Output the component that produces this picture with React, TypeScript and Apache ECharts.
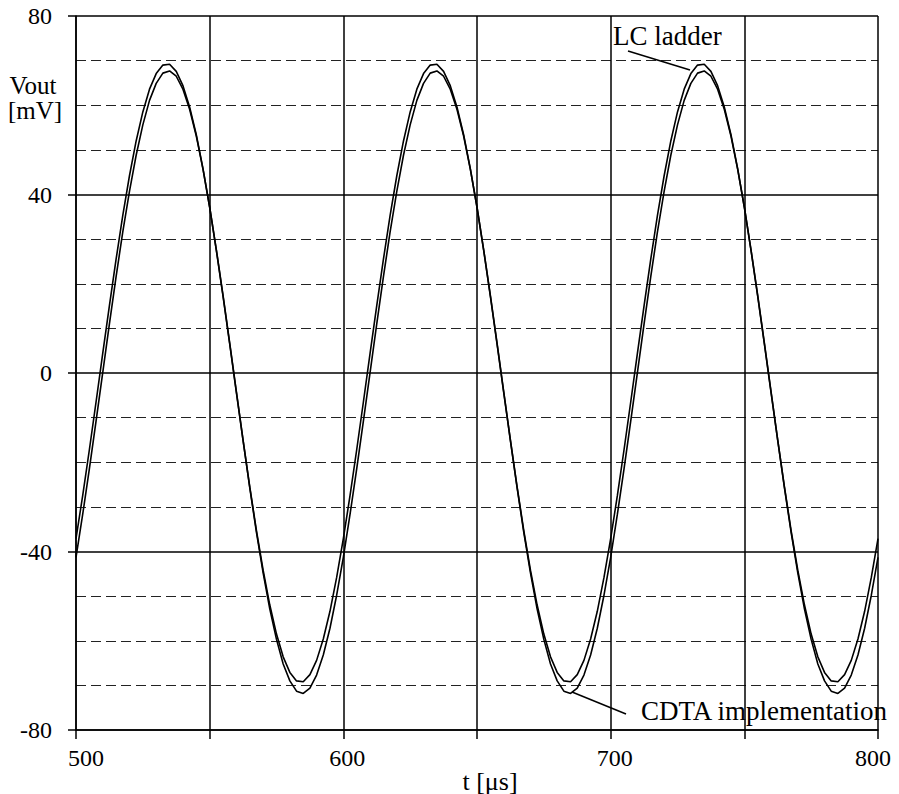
import React, { useEffect, useRef } from "react";
import * as echarts from "echarts";

// Sampling of time axis (µs)
const T_START = 500;
const T_STEP = 2.5;

// Axis tick labels
const X_LABELS = [500, 600, 700, 800];
const Y_LABELS = [-80, -40, 0, 40, 80];

// Vout [mV] of the LC ladder (2.5 µs steps from 500 to 800 µs)
const lcLadder = [
  -37.1, -27.5, -17.2, -6.5, 4.4, 15.1, 25.5, 35.3, 44.2, 52.0,
  58.5, 63.6, 67.1, 69.0, 69.2, 67.6, 64.4, 59.6, 53.4, 45.8,
  37.1, 27.5, 17.2, 6.5, -4.4, -15.1, -25.5, -35.3, -44.2, -52.0,
  -58.5, -63.6, -67.1, -69.0, -69.2, -67.6, -64.4, -59.6, -53.4, -45.8,
  -37.1, -27.5, -17.2, -6.5, 4.4, 15.1, 25.5, 35.3, 44.2, 52.0,
  58.5, 63.6, 67.1, 69.0, 69.2, 67.6, 64.4, 59.6, 53.4, 45.8,
  37.1, 27.5, 17.2, 6.5, -4.4, -15.1, -25.5, -35.3, -44.2, -52.0,
  -58.5, -63.6, -67.1, -69.0, -69.2, -67.6, -64.4, -59.6, -53.4, -45.8,
  -37.1, -27.5, -17.2, -6.5, 4.4, 15.1, 25.5, 35.3, 44.2, 52.0,
  58.5, 63.6, 67.1, 69.0, 69.2, 67.6, 64.4, 59.6, 53.4, 45.8,
  37.1, 27.5, 17.2, 6.5, -4.4, -15.1, -25.5, -35.3, -44.2, -52.0,
  -58.5, -63.6, -67.1, -69.0, -69.2, -67.6, -64.4, -59.6, -53.4, -45.8,
  -37.1,
];

// Vout [mV] of the CDTA implementation
const cdtaImpl = [
  -41.3, -31.7, -21.5, -10.8, 0.1, 11.0, 21.6, 31.6, 40.7, 48.8,
  55.6, 61.1, 64.9, 67.2, 67.7, 66.5, 63.6, 59.1, 53.1, 45.7,
  37.2, 27.6, 17.4, 6.7, -4.2, -15.1, -25.7, -35.7, -44.8, -52.9,
  -59.7, -65.2, -69.0, -71.3, -71.8, -70.6, -67.7, -63.2, -57.2, -49.8,
  -41.3, -31.7, -21.5, -10.8, 0.1, 11.0, 21.6, 31.6, 40.7, 48.8,
  55.6, 61.1, 64.9, 67.2, 67.7, 66.5, 63.6, 59.1, 53.1, 45.7,
  37.2, 27.6, 17.4, 6.7, -4.2, -15.1, -25.7, -35.7, -44.8, -52.9,
  -59.7, -65.2, -69.0, -71.3, -71.8, -70.6, -67.7, -63.2, -57.2, -49.8,
  -41.3, -31.7, -21.5, -10.8, 0.1, 11.0, 21.6, 31.6, 40.7, 48.8,
  55.6, 61.1, 64.9, 67.2, 67.7, 66.5, 63.6, 59.1, 53.1, 45.7,
  37.2, 27.6, 17.4, 6.7, -4.2, -15.1, -25.7, -35.7, -44.8, -52.9,
  -59.7, -65.2, -69.0, -71.3, -71.8, -70.6, -67.7, -63.2, -57.2, -49.8,
  -41.3,
];

const FONT = '"Liberation Serif", "Times New Roman", serif';

function toPairs(vals: number[]) {
  return vals.map((v, i) => [T_START + i * T_STEP, v]);
}

export default function App() {
  const ref = useRef<HTMLDivElement>(null);

  useEffect(() => {
    if (!ref.current) return;
    const chart = echarts.init(ref.current, null, { renderer: "svg" });

    const xPad: Record<number, number[]> = {
      500: [0, 0, 0, 20],
      600: [0, 0, 0, 8],
      700: [0, 0, 0, 8],
      800: [0, 10, 0, 0],
    };
    const rich: Record<string, any> = {};
    X_LABELS.forEach((v) => {
      rich["l" + v] = {
        fontFamily: FONT,
        fontSize: 24,
        color: "#000",
        padding: xPad[v],
      };
    });

    const txt = (text: string, x: number, y: number, size: number, align: string) => ({
      type: "text",
      x,
      y,
      z: 10,
      style: {
        text,
        fontFamily: FONT,
        fontSize: size,
        fill: "#000",
        align,
        verticalAlign: "middle",
      },
    });

    const option: any = {
      animation: false,
      backgroundColor: "#fff",
      grid: {
        left: 76,
        top: 16,
        right: 21,
        bottom: 64,
        containLabel: false,
        outerBoundsMode: "none",
      },
      xAxis: {
        type: "value",
        min: 500,
        max: 800,
        interval: 50,
        axisLine: { show: true, onZero: false, lineStyle: { color: "#000", width: 1.5 } },
        axisTick: { show: true, length: 9, lineStyle: { color: "#000", width: 1.5 } },
        axisLabel: {
          margin: 16,
          fontFamily: FONT,
          fontSize: 24,
          color: "#000",
          formatter: (v: number) =>
            X_LABELS.indexOf(v) >= 0 ? `{l${v}|${v}}` : "",
          rich,
        },
        splitLine: { show: true, lineStyle: { color: "#000", width: 1.5 } },
      },
      yAxis: {
        type: "value",
        min: -80,
        max: 80,
        interval: 40,
        axisLine: { show: true, onZero: false, lineStyle: { color: "#000", width: 1.5 } },
        axisTick: { show: true, length: 8, lineStyle: { color: "#000", width: 1.5 } },
        axisLabel: {
          margin: 24,
          fontFamily: FONT,
          fontSize: 24,
          color: "#000",
          formatter: (v: number) => (Y_LABELS.indexOf(v) >= 0 ? String(v) : ""),
        },
        splitLine: { show: true, lineStyle: { color: "#000", width: 1.5 } },
        minorTick: { show: false, splitNumber: 4 },
        minorSplitLine: {
          show: true,
          lineStyle: { color: "#222", width: 1, type: [10, 5] },
        },
      },
      series: [
        {
          name: "LC ladder",
          type: "line",
          data: toPairs(lcLadder),
          showSymbol: false,
          symbol: "none",
          lineStyle: { color: "#000", width: 1.6 },
          z: 5,
        },
        {
          name: "CDTA implementation",
          type: "line",
          data: toPairs(cdtaImpl),
          showSymbol: false,
          symbol: "none",
          lineStyle: { color: "#000", width: 1.6 },
          z: 5,
        },
      ],
      graphic: [
        txt("Vout", 33, 85, 25, "center"),
        txt("[mV]", 35, 110, 25, "center"),
        txt("t [μs]", 490, 781, 26, "center"),
        txt("LC ladder", 613, 36, 27, "left"),
        {
          type: "line",
          z: 10,
          shape: { x1: 628, y1: 51, x2: 690, y2: 70 },
          style: { stroke: "#000", lineWidth: 1.5 },
        },
        txt("CDTA implementation", 641, 711, 27, "left"),
        {
          type: "line",
          z: 10,
          shape: { x1: 572, y1: 692, x2: 626, y2: 714 },
          style: { stroke: "#000", lineWidth: 1.5 },
        },
      ],
    };

    chart.setOption(option);
    return () => {
      chart.dispose();
    };
  }, []);

  return (
    <div
      ref={ref}
      style={{ position: "fixed", left: 0, top: 0, width: 899, height: 794 }}
    />
  );
}
